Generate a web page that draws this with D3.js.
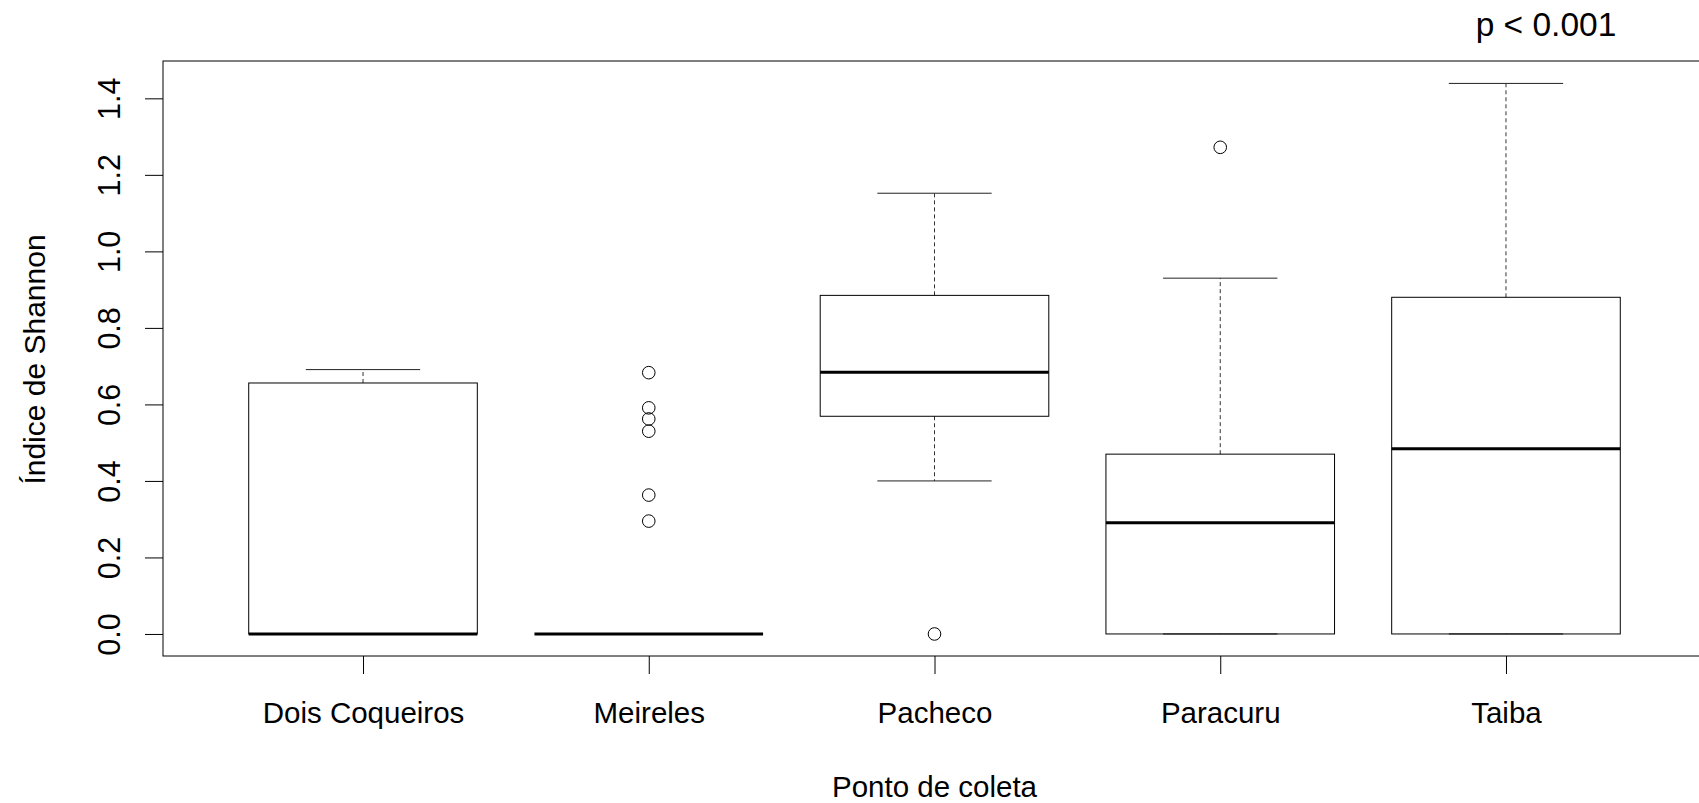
<!DOCTYPE html>
<html>
<head>
<meta charset="utf-8">
<script src="https://cdn.jsdelivr.net/npm/d3@7"></script>
<style>
  html, body { margin: 0; padding: 0; background: #fff; overflow: hidden; }
  svg { display: block; }
  text { font-family: "Liberation Sans", Arial, sans-serif; fill: #000; }
</style>
</head>
<body>
<svg id="chart" width="1699" height="803"></svg>
<script>
// ---- data ----
const categories   = ["Dois Coqueiros", "Meireles", "Pacheco", "Paracuru", "Taiba"];
const lowerWhisker = [0.000, 0.000, 0.400, 0.000, 0.000];
const q1           = [0.000, 0.000, 0.569, 0.000, 0.000];
const medians      = [0.000, 0.000, 0.684, 0.291, 0.484];
const q3           = [0.656, 0.000, 0.885, 0.470, 0.880];
const upperWhisker = [0.691, 0.000, 1.152, 0.930, 1.439];
const outliers     = [
  [],
  [0.683, 0.591, 0.562, 0.530, 0.363, 0.295],
  [0.000],
  [1.272],
  []
];
const yTicks = [0.0, 0.2, 0.4, 0.6, 0.8, 1.0, 1.2, 1.4];
const xTitle = "Ponto de coleta";
const yTitle = "Índice de Shannon";
const pLabel = "p < 0.001";

// ---- layout ----
const svg = d3.select("#chart");
const plot = { left: 163, right: 1706, top: 61, bottom: 656 };

const x = d3.scaleLinear().domain([0.3, categories.length + 0.7]).range([plot.left, plot.right]);
const y = d3.scaleLinear().domain([-0.0576, 1.4976]).range([plot.bottom, plot.top]);

const boxW = x(1.8) - x(1.0);   // box width: 0.8 units
const capW = x(1.4) - x(1.0);   // cap width: 0.4 units

const rows = categories.map((c, i) => ({
  name: c, pos: i + 1,
  lo: lowerWhisker[i], q1: q1[i], med: medians[i], q3: q3[i], hi: upperWhisker[i],
  out: outliers[i]
}));

// ---- boxes ----
const g = svg.append("g");
const box = g.selectAll("g.box").data(rows).enter().append("g").attr("class", "box");

// whiskers (dashed)
box.append("line")
  .attr("x1", d => x(d.pos)).attr("x2", d => x(d.pos))
  .attr("y1", d => y(d.q3)).attr("y2", d => y(d.hi))
  .attr("stroke", "#333").attr("stroke-width", 1).attr("stroke-dasharray", "4,3");
box.append("line")
  .attr("x1", d => x(d.pos)).attr("x2", d => x(d.pos))
  .attr("y1", d => y(d.q1)).attr("y2", d => y(d.lo))
  .attr("stroke", "#333").attr("stroke-width", 1).attr("stroke-dasharray", "4,3");
// caps
box.append("line")
  .attr("x1", d => x(d.pos) - capW / 2).attr("x2", d => x(d.pos) + capW / 2)
  .attr("y1", d => y(d.hi)).attr("y2", d => y(d.hi))
  .attr("stroke", "#222").attr("stroke-width", 1);
box.append("line")
  .attr("x1", d => x(d.pos) - capW / 2).attr("x2", d => x(d.pos) + capW / 2)
  .attr("y1", d => y(d.lo)).attr("y2", d => y(d.lo))
  .attr("stroke", "#222").attr("stroke-width", 1);
// box rect
box.append("rect")
  .attr("x", d => x(d.pos) - boxW / 2)
  .attr("width", boxW)
  .attr("y", d => y(d.q3))
  .attr("height", d => Math.max(0, y(d.q1) - y(d.q3)))
  .attr("fill", "none").attr("stroke", "#000").attr("stroke-width", 1);
// median
box.append("line")
  .attr("x1", d => x(d.pos) - boxW / 2).attr("x2", d => x(d.pos) + boxW / 2)
  .attr("y1", d => y(d.med)).attr("y2", d => y(d.med))
  .attr("stroke", "#000").attr("stroke-width", 3);
// outliers
box.selectAll("circle")
  .data(d => d.out.map(v => ({ pos: d.pos, v })))
  .enter().append("circle")
  .attr("cx", d => x(d.pos)).attr("cy", d => y(d.v)).attr("r", 6.3)
  .attr("fill", "none").attr("stroke", "#000").attr("stroke-width", 1);

// ---- frame ----
svg.append("rect")
  .attr("x", plot.left).attr("y", plot.top)
  .attr("width", plot.right - plot.left).attr("height", plot.bottom - plot.top)
  .attr("fill", "none").attr("stroke", "#000").attr("stroke-width", 1);

// ---- y axis ----
const yAxis = svg.append("g")
  .attr("transform", `translate(${plot.left},0)`)
  .call(d3.axisLeft(y).tickValues(yTicks).tickSize(18).tickSizeOuter(0).tickFormat(d3.format(".1f")));
yAxis.select(".domain").remove();
yAxis.selectAll(".tick line").attr("stroke", "#000");
yAxis.selectAll(".tick text")
  .attr("x", null).attr("dy", null)
  .attr("text-anchor", "middle")
  .attr("transform", "translate(-43,0) rotate(-90)")
  .style("font-size", "30.5px")
  .style("font-family", "'Liberation Sans', Arial, sans-serif")
  .attr("fill", "#000");

// ---- x axis ----
const xAxis = svg.append("g")
  .attr("transform", `translate(0,${plot.bottom})`)
  .call(d3.axisBottom(x).tickValues(rows.map(d => d.pos)).tickSize(18).tickSizeOuter(0)
    .tickFormat((d, i) => categories[i]));
xAxis.select(".domain").remove();
xAxis.selectAll(".tick line").attr("stroke", "#000");
xAxis.selectAll(".tick text")
  .attr("y", 67).attr("dy", null)
  .style("font-size", "29.5px")
  .style("font-family", "'Liberation Sans', Arial, sans-serif")
  .attr("fill", "#000");

// ---- titles ----
svg.append("text")
  .attr("x", (plot.left + plot.right) / 2).attr("y", 797)
  .attr("text-anchor", "middle").style("font-size", "29.5px")
  .text(xTitle);

svg.append("text")
  .attr("transform", `translate(45,${(plot.top + plot.bottom) / 2 + 1}) rotate(-90)`)
  .attr("text-anchor", "middle").style("font-size", "30px")
  .text(yTitle);

svg.append("text")
  .attr("x", 1546).attr("y", 35.5)
  .attr("text-anchor", "middle").style("font-size", "33.5px")
  .text(pLabel);
</script>
</body>
</html>
